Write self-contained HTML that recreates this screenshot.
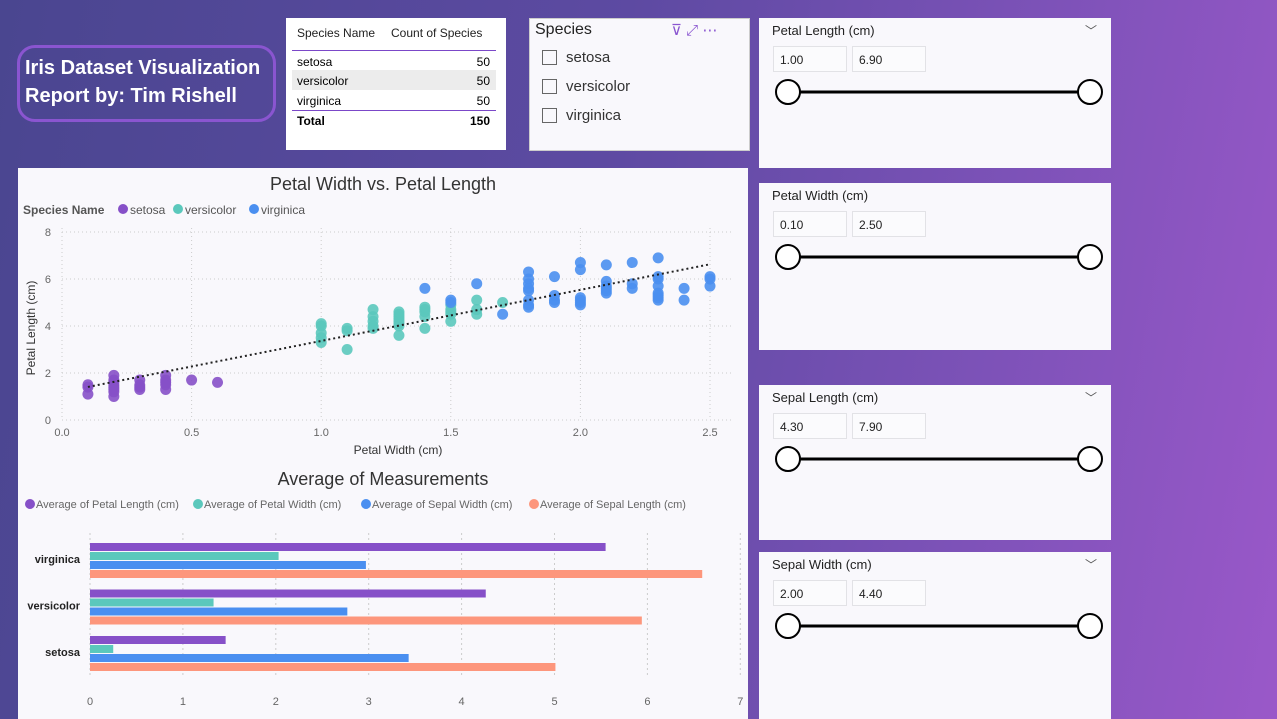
<!DOCTYPE html>
<html><head><meta charset="utf-8">
<style>
*{margin:0;padding:0;box-sizing:border-box}
body{width:1277px;height:719px;overflow:hidden;font-family:"Liberation Sans",sans-serif;background:linear-gradient(100deg,#4a4690 0%,#5d4aa2 45%,#7d52b8 75%,#9a58c9 100%);position:relative}
.abs{position:absolute}
.panel{position:absolute;background:#f9f8fc}
.title-box{left:17px;top:45px;width:259px;height:77px;border:3px solid #8a55d0;border-radius:18px;color:#fff;font-weight:bold;font-size:20px;line-height:28px;padding:6px 0 0 5px}
.sl-title{position:absolute;left:13px;top:5px;font-size:13px;color:#222}
.sl-in{position:absolute;top:28px;width:74px;height:26px;border:1px solid #e2e2e6;background:#fbfbfd;font-size:12px;padding:6px 0 0 6px;color:#222}
.chev{position:absolute;right:14px;top:4px;font-size:12px;color:#555}
</style></head><body>
<div class="abs title-box">Iris Dataset Visualization<br>Report by: Tim Rishell</div>

<div class="panel" style="left:286px;top:18px;width:220px;height:132px;background:#fff">
 <div class="abs" style="left:11px;top:8px;font-size:12px;color:#222">Species Name</div>
 <div class="abs" style="left:105px;top:8px;font-size:12px;color:#222">Count of Species</div>
 <div class="abs" style="left:6px;top:32px;width:204px;border-top:1.5px solid #7b48c8"></div>
 <div class="abs" style="left:11px;top:37px;font-size:12px">setosa</div><div class="abs" style="right:16px;top:37px;font-size:12px">50</div>
 <div class="abs" style="left:6px;top:52px;width:204px;height:20px;background:#ececec"></div>
 <div class="abs" style="left:11px;top:56px;font-size:12px">versicolor</div><div class="abs" style="right:16px;top:56px;font-size:12px">50</div>
 <div class="abs" style="left:11px;top:76px;font-size:12px">virginica</div><div class="abs" style="right:16px;top:76px;font-size:12px">50</div>
 <div class="abs" style="left:6px;top:92px;width:204px;border-top:1.5px solid #7b48c8"></div>
 <div class="abs" style="left:11px;top:96px;font-size:12px;font-weight:bold">Total</div><div class="abs" style="right:16px;top:96px;font-size:12px;font-weight:bold">150</div>
</div>

<div class="panel" style="left:529px;top:18px;width:221px;height:133px;border:1px solid #ccc">
 <div class="abs" style="left:5px;top:2px;font-size:16px;color:#222">Species</div>
 <div class="abs" style="left:141px;top:2px;font-size:15px;color:#8a55d0">⊽ ⤢ ⋯</div>
 <div class="abs" style="left:12px;top:31px;width:15px;height:15px;border:1px solid #666"></div><div class="abs" style="left:36px;top:30px;font-size:15px;color:#333">setosa</div>
 <div class="abs" style="left:12px;top:60px;width:15px;height:15px;border:1px solid #666"></div><div class="abs" style="left:36px;top:59px;font-size:15px;color:#333">versicolor</div>
 <div class="abs" style="left:12px;top:89px;width:15px;height:15px;border:1px solid #666"></div><div class="abs" style="left:36px;top:88px;font-size:15px;color:#333">virginica</div>
</div>

<div class="panel" style="left:759px;top:18px;width:352px;height:150px">
 <div class="sl-title">Petal Length (cm)</div><div class="chev">﹀</div>
 <div class="sl-in" style="left:14px">1.00</div><div class="sl-in" style="left:93px">6.90</div>
 <svg class="abs" style="left:0;top:60px" width="352" height="30"><line x1="29" y1="14" x2="331" y2="14" stroke="#000" stroke-width="3"/><circle cx="29" cy="14" r="12" fill="#fff" stroke="#000" stroke-width="2"/><circle cx="331" cy="14" r="12" fill="#fff" stroke="#000" stroke-width="2"/></svg>
</div>
<div class="panel" style="left:759px;top:183px;width:352px;height:167px">
 <div class="sl-title">Petal Width (cm)</div>
 <div class="sl-in" style="left:14px">0.10</div><div class="sl-in" style="left:93px">2.50</div>
 <svg class="abs" style="left:0;top:60px" width="352" height="30"><line x1="29" y1="14" x2="331" y2="14" stroke="#000" stroke-width="3"/><circle cx="29" cy="14" r="12" fill="#fff" stroke="#000" stroke-width="2"/><circle cx="331" cy="14" r="12" fill="#fff" stroke="#000" stroke-width="2"/></svg>
</div>
<div class="panel" style="left:759px;top:385px;width:352px;height:155px">
 <div class="sl-title">Sepal Length (cm)</div><div class="chev">﹀</div>
 <div class="sl-in" style="left:14px">4.30</div><div class="sl-in" style="left:93px">7.90</div>
 <svg class="abs" style="left:0;top:60px" width="352" height="30"><line x1="29" y1="14" x2="331" y2="14" stroke="#000" stroke-width="3"/><circle cx="29" cy="14" r="12" fill="#fff" stroke="#000" stroke-width="2"/><circle cx="331" cy="14" r="12" fill="#fff" stroke="#000" stroke-width="2"/></svg>
</div>
<div class="panel" style="left:759px;top:552px;width:352px;height:167px">
 <div class="sl-title">Sepal Width (cm)</div><div class="chev">﹀</div>
 <div class="sl-in" style="left:14px">2.00</div><div class="sl-in" style="left:93px">4.40</div>
 <svg class="abs" style="left:0;top:60px" width="352" height="30"><line x1="29" y1="14" x2="331" y2="14" stroke="#000" stroke-width="3"/><circle cx="29" cy="14" r="12" fill="#fff" stroke="#000" stroke-width="2"/><circle cx="331" cy="14" r="12" fill="#fff" stroke="#000" stroke-width="2"/></svg>
</div>

<div class="panel" style="left:18px;top:168px;width:730px;height:551px">
<svg id="chart" width="730" height="551" style="position:absolute;left:0;top:0;font-family:'Liberation Sans',sans-serif"></svg>
</div>

<script>
// scatter data (petal width, petal length)
const setosaW=[0.1,0.1,0.1,0.2,0.2,0.2,0.2,0.2,0.2,0.2,0.2,0.3,0.3,0.3,0.3,0.4,0.4,0.4,0.4,0.4,0.5,0.6];
const setosaL=[1.1,1.4,1.5,1.0,1.2,1.3,1.4,1.5,1.6,1.7,1.9,1.3,1.4,1.5,1.7,1.3,1.5,1.6,1.7,1.9,1.7,1.6];
const versiW=[1.0,1.0,1.0,1.0,1.0,1.1,1.1,1.1,1.2,1.2,1.2,1.2,1.2,1.3,1.3,1.3,1.3,1.3,1.3,1.3,1.3,1.4,1.4,1.4,1.4,1.4,1.5,1.5,1.5,1.5,1.5,1.6,1.6,1.6,1.7];
const versiL=[3.3,3.5,3.7,4.0,4.1,3.0,3.8,3.9,3.9,4.0,4.2,4.4,4.7,3.6,4.0,4.1,4.2,4.3,4.4,4.5,4.6,3.9,4.4,4.6,4.7,4.8,4.2,4.5,4.6,4.7,4.9,4.5,4.7,5.1,5.0];
const virgW=[1.4,1.5,1.5,1.6,1.7,1.8,1.8,1.8,1.8,1.8,1.8,1.8,1.8,1.9,1.9,1.9,1.9,2.0,2.0,2.0,2.0,2.0,2.0,2.1,2.1,2.1,2.1,2.1,2.1,2.2,2.2,2.2,2.3,2.3,2.3,2.3,2.3,2.3,2.3,2.3,2.4,2.4,2.5,2.5,2.5];
const virgL=[5.6,5.0,5.1,5.8,4.5,4.8,4.9,5.1,5.5,5.6,5.8,6.0,6.3,5.0,5.1,5.3,6.1,4.9,5.0,5.1,5.2,6.4,6.7,5.4,5.5,5.6,5.7,5.9,6.6,5.6,5.8,6.7,5.1,5.2,5.3,5.4,5.7,6.0,6.1,6.9,5.1,5.6,5.7,6.0,6.1];
const xTicks=[0,0.5,1,1.5,2,2.5];
const yTicks=[0,2,4,6,8];
// bar data
const barCats=['virginica','versicolor','setosa'];
const petalLen=[5.55,4.26,1.46];
const petalWid=[2.03,1.33,0.25];
const sepalWid=[2.97,2.77,3.43];
const sepalLen=[6.59,5.94,5.01];
const barTicks=[0,1,2,3,4,5,6,7];

const svg=document.getElementById('chart');
const NS='http://www.w3.org/2000/svg';
function mk(t,a,txt){const e=document.createElementNS(NS,t);for(const k in a)e.setAttribute(k,a[k]);if(txt!==undefined)e.textContent=txt;svg.appendChild(e);return e;}
const C={set:'#8650c8',ver:'#5bc8bc',vir:'#4a8ff0',sl:'#fd967c'};
const sx=v=>44+v*259.2, sy=v=>252-v*23.5;
let t=mk('text',{x:365,y:22,'font-size':18,fill:'#333','text-anchor':'middle'},'Petal Width vs. Petal Length');


t=mk('text',{x:5,y:46,'font-size':12,'font-weight':'bold',fill:'#555'},'Species Name');
const leg=[['setosa',C.set,105],['versicolor',C.ver,160],['virginica',C.vir,236]];
leg.forEach(l=>{let c=mk('circle',{cx:l[2],cy:41,r:5,fill:l[1]});


mk('text',{x:l[2]+7,y:46,'font-size':12,fill:'#555'},l[0]);});
yTicks.forEach(v=>{mk('line',{x1:44,x2:715,y1:sy(v),y2:sy(v),stroke:'#ccc','stroke-dasharray':'1,3'});mk('text',{x:33,y:sy(v)+4,'font-size':11,fill:'#666','text-anchor':'end'},v);});
xTicks.forEach(v=>{mk('line',{x1:sx(v),x2:sx(v),y1:60,y2:252,stroke:'#ccc','stroke-dasharray':'1,3'});mk('text',{x:sx(v),y:268,'font-size':11,fill:'#666','text-anchor':'middle'},v.toFixed(1));});
t=mk('text',{x:380,y:286,'font-size':12,fill:'#333','text-anchor':'middle'},'Petal Width (cm)');


t=mk('text',{x:17,y:160,'font-size':12,fill:'#333','text-anchor':'middle',transform:'rotate(-90 17 160)'},'Petal Length (cm)');


[[setosaW,setosaL,C.set,'setosa'],[versiW,versiL,C.ver,'versicolor'],[virgW,virgL,C.vir,'virginica']].forEach(s=>{s[0].forEach((w,i)=>{const c=mk('circle',{cx:sx(w),cy:sy(s[1][i]),r:5.5,fill:s[2],'fill-opacity':0.9});

});});
const allW=setosaW.concat(versiW,virgW), allL=setosaL.concat(versiL,virgL);
const n=allW.length, mw=allW.reduce((a,b)=>a+b)/n, ml=allL.reduce((a,b)=>a+b)/n;
let num=0,den=0;allW.forEach((w,i)=>{num+=(w-mw)*(allL[i]-ml);den+=(w-mw)*(w-mw);});
const sl=num/den, ic=ml-sl*mw;
t=mk('line',{x1:sx(0.1),y1:sy(ic+sl*0.1),x2:sx(2.5),y2:sy(ic+sl*2.5),stroke:'#222','stroke-width':2,'stroke-dasharray':'2,3'});


const bx=v=>72+v*92.9;
t=mk('text',{x:365,y:317,'font-size':18,fill:'#333','text-anchor':'middle'},'Average of Measurements');


const bl=[['Average of Petal Length (cm)',C.set,12],['Average of Petal Width (cm)',C.ver,180],['Average of Sepal Width (cm)',C.vir,348],['Average of Sepal Length (cm)',C.sl,516]];
bl.forEach(l=>{const c=mk('circle',{cx:l[2],cy:336,r:5,fill:l[1]});


mk('text',{x:l[2]+6,y:340,'font-size':11,fill:'#666'},l[0]);});
barTicks.forEach(v=>{mk('line',{x1:bx(v),x2:bx(v),y1:365,y2:510,stroke:'#ccc','stroke-dasharray':'2,3'});mk('text',{x:bx(v),y:537,'font-size':11,fill:'#666','text-anchor':'middle'},v);});
const series=[[petalLen,C.set],[petalWid,C.ver],[sepalWid,C.vir],[sepalLen,C.sl]];
barCats.forEach((c,ci)=>{const top=375+ci*46.5;
 mk('text',{x:62,y:top+20,'font-size':11,'font-weight':'bold',fill:'#222','text-anchor':'end'},c);
 series.forEach((s,si)=>{const r=mk('rect',{x:bx(0),y:top+si*9,width:bx(s[0][ci])-bx(0),height:8,fill:s[1]});
 
 });
});
</script>
</body></html>
